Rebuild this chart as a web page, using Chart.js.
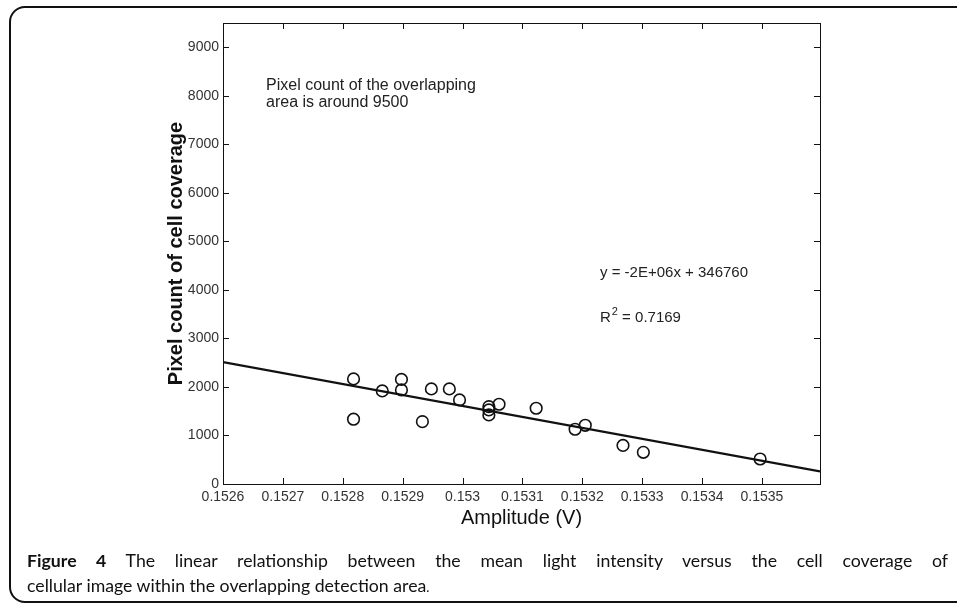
<!DOCTYPE html>
<html>
<head>
<meta charset="utf-8">
<script src="https://cdn.jsdelivr.net/npm/chart.js@4"></script>
<style>
  html, body { margin: 0; padding: 0; background: #fff; }
  #wrap { position: relative; width: 957px; height: 604px; overflow: hidden; }
  #frame { position: absolute; left: 9px; top: 6px; width: 990px; height: 597px; border: 2px solid #111; border-radius: 16px; box-sizing: border-box; }
  #plot { position: absolute; left: 0; top: 0; width: 957px; height: 604px; }
  .cap { position: absolute; left: 27px; font-family: Lato, "Noto Sans", sans-serif; font-size: 18px; line-height: 24px; color: #111; }
  #cap1 { top: 549px; width: 921px; text-align: justify; text-align-last: justify; }
  #cap2 { top: 574px; white-space: nowrap; }
</style>
</head>
<body>
<div id="wrap">
  <div id="frame"></div>
  <div id="plot"><canvas id="scatterChart"></canvas></div>
  <div class="cap" id="cap1"><b>Figure 4</b> The linear relationship between the mean light intensity versus the cell coverage of</div>
  <div class="cap" id="cap2">cellular image within the overlapping detection area<span style="font-size:0.75em">.</span></div>
</div>
<script>
// values
const amplitude = [0.152818, 0.152818, 0.152866, 0.152898, 0.152898, 0.152933, 0.152948, 0.152978,
    0.152995, 0.153044, 0.153044, 0.153044, 0.153061, 0.153123, 0.153188, 0.153205,
    0.153268, 0.153302, 0.153497];
const pixelCount = [1335, 2165, 1918, 2155, 1938, 1285, 1959, 1959,
    1732, 1594, 1526, 1423, 1643, 1561, 1128, 1210,
    795, 653, 515];

// fitted line, end points as drawn
const fitAmplitude = [0.1526, 0.153597];
const fitPixelCount = [2510, 260];

const xTickValues = [0.1526, 0.1527, 0.1528, 0.1529, 0.153, 0.1531, 0.1532, 0.1533, 0.1534, 0.1535];
const xTickLabels = ['0.1526', '0.1527', '0.1528', '0.1529', '0.153', '0.1531', '0.1532', '0.1533', '0.1534', '0.1535'];
const yTickValues = [0, 1000, 2000, 3000, 4000, 5000, 6000, 7000, 8000, 9000];

const axisFont = '"Liberation Sans", Arial, sans-serif';

// size the caption so the short second line is as wide as in the figure,
// first line is justified out to the frame
function fitCaption() {
    const c1 = document.getElementById('cap1');
    const c2 = document.getElementById('cap2');
    const size = 18 * 403 / c2.offsetWidth;
    c1.style.fontSize = size + 'px';
    c2.style.fontSize = size + 'px';
}

// matlab style box with inward ticks + text notes
const boxPlugin = {
    id: 'boxPlugin',
    afterDraw(chart) {
        const ctx = chart.ctx;
        const a = chart.chartArea;
        const xs = chart.scales.x, ys = chart.scales.y;
        const tl = 6;
        ctx.save();
        ctx.strokeStyle = '#111';
        ctx.lineWidth = 1;
        ctx.strokeRect(Math.round(a.left) + 0.5, Math.round(a.top) + 0.5, Math.round(a.right - a.left), Math.round(a.bottom - a.top));
        ctx.beginPath();
        xTickValues.forEach(v => {
            const px = Math.round(xs.getPixelForValue(v)) + 0.5;
            ctx.moveTo(px, a.bottom); ctx.lineTo(px, a.bottom - tl);
            ctx.moveTo(px, a.top); ctx.lineTo(px, a.top + tl);
        });
        yTickValues.forEach(v => {
            const py = Math.round(ys.getPixelForValue(v)) + 0.5;
            ctx.moveTo(a.left, py); ctx.lineTo(a.left + tl, py);
            ctx.moveTo(a.right, py); ctx.lineTo(a.right - tl, py);
        });
        ctx.stroke();

        ctx.fillStyle = '#222';
        ctx.textBaseline = 'middle';
        ctx.textAlign = 'left';
        ctx.font = '16px ' + axisFont;
        ctx.fillText('Pixel count of the overlapping', a.left + 43, a.top + 63);
        ctx.fillText('area is around 9500', a.left + 43, a.top + 80);

        ctx.font = '15px ' + axisFont;
        const ex = a.left + 377;
        ctx.fillText('y = -2E+06x + 346760', ex, a.top + 250);
        ctx.fillText('R', ex, a.top + 295);
        const rw = ctx.measureText('R').width;
        ctx.font = '11px ' + axisFont;
        ctx.fillText('2', ex + rw + 1, a.top + 289);
        const sw = ctx.measureText('2').width;
        ctx.font = '15px ' + axisFont;
        ctx.fillText(' = 0.7169', ex + rw + 1 + sw, a.top + 295);
        ctx.restore();
    }
};

function drawChart() {
    const points = amplitude.map((x, i) => ({x: x, y: pixelCount[i]}));
    const fitLine = fitAmplitude.map((x, i) => ({x: x, y: fitPixelCount[i]}));

    new Chart(document.getElementById('scatterChart'), {
        type: 'scatter',
        data: {
            datasets: [
                {
                    label: 'Samples',
                    data: points,
                    pointStyle: 'circle',
                    pointRadius: 5.8,
                    pointBorderWidth: 1.6,
                    borderColor: '#111',
                    backgroundColor: 'rgba(0,0,0,0)',
                },
                {
                    type: 'line',
                    label: 'Linear fit',
                    data: fitLine,
                    showLine: true,
                    pointRadius: 0,
                    borderColor: '#111',
                    borderWidth: 2.2,
                    fill: false,
                },
            ],
        },
        options: {
            responsive: true,
            maintainAspectRatio: false,
            animation: false,
            layout: { padding: { left: 160, top: 23, right: 137, bottom: 70 } },
            plugins: { legend: { display: false }, tooltip: { enabled: false } },
            scales: {
                x: {
                    type: 'linear',
                    min: 0.1526,
                    max: 0.153597,
                    afterBuildTicks: s => { s.ticks = xTickValues.map(v => ({value: v})); },
                    afterFit: s => { s.height = 50; },
                    grid: { display: false, drawTicks: false },
                    border: { display: false },
                    ticks: {
                        autoSkip: false,
                        maxRotation: 0,
                        padding: 5,
                        color: '#333',
                        font: { family: axisFont, size: 14 },
                        callback: (v, i) => xTickLabels[i],
                    },
                    title: {
                        display: true,
                        text: 'Amplitude (V)',
                        color: '#111',
                        font: { family: axisFont, size: 20 },
                        padding: { top: 0, bottom: 4 },
                    },
                },
                y: {
                    type: 'linear',
                    min: 0,
                    max: 9500,
                    afterBuildTicks: s => { s.ticks = yTickValues.map(v => ({value: v})); },
                    afterFit: s => { s.width = 63; },
                    grid: { display: false, drawTicks: false },
                    border: { display: false },
                    ticks: {
                        autoSkip: false,
                        padding: 4,
                        color: '#333',
                        font: { family: axisFont, size: 14 },
                        callback: v => String(v),
                    },
                    title: {
                        display: true,
                        text: 'Pixel count of cell coverage',
                        color: '#111',
                        font: { family: axisFont, size: 20, weight: 'bold' },
                        padding: { top: 4, bottom: 0 },
                    },
                },
            },
        },
        plugins: [boxPlugin],
    });
}

fitCaption();
drawChart();
</script>
</body>
</html>
